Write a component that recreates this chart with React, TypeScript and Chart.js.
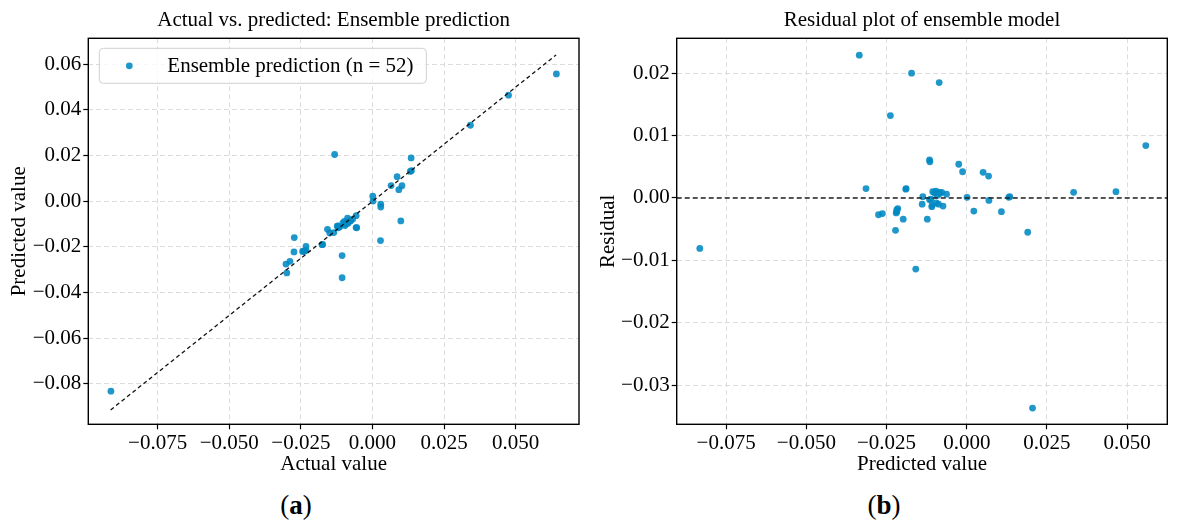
import React, { useEffect, useRef } from 'react';
import { Chart, registerables } from 'chart.js';

Chart.register(...registerables);

// ---------------- data ----------------
const actualValues = [
  -0.0106, 0.0028, 0.0099, -0.0106, -0.0055, -0.0057, 0.0029, 0.0029, 0.0092, 0.0103,
  0.0642, -0.0299, -0.0176, -0.0096, -0.0085, -0.0077, -0.0069, -0.0057, -0.0135, -0.0114,
  -0.0149, -0.0123, -0.0098, -0.0087, -0.0157, 0.0002, 0.0065, 0.0132, 0.0342, 0.0475,
  0.0001, 0.0086, 0.0135, -0.0302, -0.0288, -0.0232, -0.0240, -0.0244, -0.0232, -0.0274,
  -0.0273, -0.0913, -0.0132, -0.0092, -0.0088, -0.0120, -0.0077, -0.0237, -0.0174, -0.0119,
  -0.0103, 0.0136,
];
const predictedValues = [
  -0.0335, -0.0172, -0.0086, -0.0238, -0.0116, -0.0115, -0.0025, -0.0013, 0.0051, 0.0068,
  0.0558, -0.0314, -0.0190, -0.0106, -0.0096, -0.0086, -0.0078, -0.0063, -0.0137, -0.0112,
  -0.0139, -0.0109, -0.0088, -0.0074, -0.0123, 0.0001, 0.0069, 0.0131, 0.0333, 0.0465,
  0.0022, 0.0108, 0.0190, -0.0275, -0.0263, -0.0215, -0.0218, -0.0220, -0.0198, -0.0222,
  -0.0159, -0.0832, 0.0205, -0.0100, -0.0092, -0.0108, -0.0084, -0.0218, -0.0189, -0.0116,
  -0.0095, 0.0134,
];
const residualValues = [
  0.0229, 0.0200, 0.0185, 0.0132, 0.0061, 0.0058, 0.0054, 0.0042, 0.0041, 0.0035,
  0.0084, 0.0015, 0.0014, 0.0010, 0.0011, 0.0009, 0.0009, 0.0006, 0.0002, -0.0002,
  -0.0010, -0.0014, -0.0010, -0.0013, -0.0034, 0.0001, -0.0004, 0.0001, 0.0009, 0.0010,
  -0.0021, -0.0022, -0.0055, -0.0027, -0.0025, -0.0017, -0.0022, -0.0024, -0.0034, -0.0052,
  -0.0114, -0.0081, -0.0337, 0.0008, 0.0004, -0.0012, 0.0007, -0.0019, 0.0015, -0.0003,
  -0.0008, 0.0002,
];
const identityLineEnds = [-0.0914, 0.0641];
const zeroResidual = 0;

const xTicksA = [-0.075, -0.05, -0.025, 0, 0.025, 0.05];
const yTicksA = [-0.08, -0.06, -0.04, -0.02, 0, 0.02, 0.04, 0.06];
const xTicksB = [-0.075, -0.05, -0.025, 0, 0.025, 0.05];
const yTicksB = [-0.03, -0.02, -0.01, 0, 0.01, 0.02];

const rangeA = { xMin: -0.0992, xMax: 0.0721, yMin: -0.0977, yMax: 0.0714 };
const rangeB = { xMin: -0.0904, xMax: 0.0625, yMin: -0.0363, yMax: 0.0256 };

const titleA = 'Actual vs. predicted: Ensemble prediction';
const titleB = 'Residual plot of ensemble model';
const legendLabel = 'Ensemble prediction (n = 52)';

// ---------------- styling ----------------
const FONT = '"Liberation Serif", "Times New Roman", serif';
const POINT = 'rgba(0, 137, 195, 0.88)';
const FS = 21;

const fmt = (dec: number) => (v: any) => {
  const n = Number(v);
  return (n < -1e-12 ? '\u2212' : '') + Math.abs(n).toFixed(dec);
};

function axis(opts: any) {
  const { min, max, ticks, dec, title, size, horizontal, titlePad } = opts;
  return {
    type: 'linear',
    min,
    max,
    afterBuildTicks: (s: any) => {
      s.ticks = ticks.map((v: number) => ({ value: v }));
    },
    afterFit: (s: any) => {
      if (horizontal) s.height = size;
      else s.width = size;
    },
    grid: {
      color: '#dcdcdc',
      lineWidth: 1,
      drawTicks: true,
      tickLength: 5,
      tickColor: '#000',
      tickWidth: 1.2,
      tickBorderDash: [],
    },
    border: { display: false, dash: [5, 3] },
    ticks: {
      autoSkip: false,
      maxRotation: 0,
      minRotation: 0,
      padding: 2,
      color: '#000',
      font: { family: FONT, size: FS, lineHeight: 1.2 },
      callback: fmt(dec),
    },
    title: {
      display: true,
      text: title,
      color: '#000',
      font: { family: FONT, size: FS, lineHeight: 1.2 },
      padding: horizontal ? { top: 0, bottom: titlePad } : { top: titlePad, bottom: 0 },
    },
  };
}

const framePlugin = {
  id: 'frame',
  afterDraw(chart: any) {
    const { ctx, chartArea: a } = chart;
    ctx.save();
    ctx.strokeStyle = '#000';
    ctx.lineWidth = 1.4;
    ctx.setLineDash([]);
    ctx.strokeRect(a.left, a.top, a.right - a.left, a.bottom - a.top);
    ctx.restore();
  },
};

const legendPlugin = {
  id: 'innerLegend',
  afterDraw(chart: any) {
    const { ctx, chartArea: a } = chart;
    const ds = chart.data.datasets.find((d: any) => d.isLegend);
    if (!ds) return;
    const x = a.left + 11;
    const y = a.top + 10;
    const w = 327;
    const h = 35;
    ctx.save();
    ctx.beginPath();
    if (ctx.roundRect) ctx.roundRect(x, y, w, h, 4);
    else ctx.rect(x, y, w, h);
    ctx.fillStyle = 'rgba(255,255,255,0.8)';
    ctx.fill();
    ctx.strokeStyle = '#d0d0d0';
    ctx.lineWidth = 1;
    ctx.stroke();
    ctx.beginPath();
    ctx.arc(x + 30, y + 17.5, 3.4, 0, Math.PI * 2);
    ctx.fillStyle = POINT;
    ctx.fill();
    ctx.fillStyle = '#000';
    ctx.font = `${FS}px ${FONT}`;
    ctx.textBaseline = 'middle';
    ctx.textAlign = 'left';
    ctx.fillText(ds.label, x + 68, y + 18);
    ctx.restore();
  },
};

function baseOptions(title: string, padRight: number, xAxis: any, yAxis: any) {
  return {
    responsive: false,
    animation: false,
    events: [],
    devicePixelRatio: 1,
    layout: { padding: { left: 0, right: padRight, top: 0, bottom: 0 } },
    plugins: {
      legend: { display: false },
      tooltip: { enabled: false },
      title: {
        display: true,
        text: title,
        fullSize: false,
        color: '#000',
        font: { family: FONT, size: FS, weight: 'normal', lineHeight: 1.2 },
        padding: { top: 7.4, bottom: 5.7 },
      },
    },
    scales: { x: xAxis, y: yAxis },
  };
}

function ChartA() {
  const ref = useRef<HTMLCanvasElement>(null);
  useEffect(() => {
    const points = actualValues.map((a, i) => ({ x: a, y: predictedValues[i] }));
    const chart = new Chart(ref.current as HTMLCanvasElement, {
      type: 'scatter',
      data: {
        datasets: [
          {
            label: 'Ideal',
            data: identityLineEnds.map((v) => ({ x: v, y: v })),
            showLine: true,
            borderColor: '#111',
            borderWidth: 1.3,
            borderDash: [4, 3],
            pointRadius: 0,
            order: 0,
          } as any,
          {
            label: legendLabel,
            isLegend: true,
            data: points,
            backgroundColor: POINT,
            borderWidth: 0,
            pointRadius: 3.4,
            order: 1,
          } as any,
        ],
      },
      options: baseOptions(
        titleA,
        11,
        axis({ min: rangeA.xMin, max: rangeA.xMax, ticks: xTicksA, dec: 3, title: 'Actual value', size: 55.7, horizontal: true, titlePad: 3.4 }),
        axis({ min: rangeA.yMin, max: rangeA.yMax, ticks: yTicksA, dec: 2, title: 'Predicted value', size: 88.3, horizontal: false, titlePad: 6.9 })
      ) as any,
      plugins: [framePlugin, legendPlugin],
    });
    return () => chart.destroy();
  }, []);
  return <canvas ref={ref} width={590} height={480} style={{ position: 'absolute', left: 0, top: 0 }} />;
}

function ChartB() {
  const ref = useRef<HTMLCanvasElement>(null);
  useEffect(() => {
    const points = predictedValues.map((p, i) => ({ x: p, y: residualValues[i] }));
    const chart = new Chart(ref.current as HTMLCanvasElement, {
      type: 'scatter',
      data: {
        datasets: [
          {
            label: 'Zero',
            data: [
              { x: rangeB.xMin, y: zeroResidual },
              { x: rangeB.xMax, y: zeroResidual },
            ],
            showLine: true,
            borderColor: '#222',
            borderWidth: 1.5,
            borderDash: [5, 3],
            pointRadius: 0,
            order: 0,
          } as any,
          {
            label: 'Residuals',
            data: points,
            backgroundColor: POINT,
            borderWidth: 0,
            pointRadius: 3.4,
            order: 1,
          } as any,
        ],
      },
      options: baseOptions(
        titleB,
        9.7,
        axis({ min: rangeB.xMin, max: rangeB.xMax, ticks: xTicksB, dec: 3, title: 'Predicted value', size: 55.7, horizontal: true, titlePad: 3.4 }),
        axis({ min: rangeB.yMin, max: rangeB.yMax, ticks: yTicksB, dec: 2, title: 'Residual', size: 86.7, horizontal: false, titlePad: 6.0 })
      ) as any,
      plugins: [framePlugin],
    });
    return () => chart.destroy();
  }, []);
  return <canvas ref={ref} width={587} height={480} style={{ position: 'absolute', left: 590, top: 0 }} />;
}

const labelStyle: React.CSSProperties = {
  position: 'absolute',
  top: 490,
  width: 80,
  textAlign: 'center',
  fontFamily: FONT,
  fontSize: 27,
  lineHeight: '30px',
  color: '#000',
};

export default function App() {
  return (
    <div style={{ position: 'absolute', left: 0, top: 0, width: 1177, height: 525, background: '#fff', overflow: 'hidden' }}>
      <ChartA />
      <ChartB />
      <div style={{ ...labelStyle, left: 296 - 40 }}>
        (<b>a</b>)
      </div>
      <div style={{ ...labelStyle, left: 884 - 40 }}>
        (<b>b</b>)
      </div>
    </div>
  );
}
